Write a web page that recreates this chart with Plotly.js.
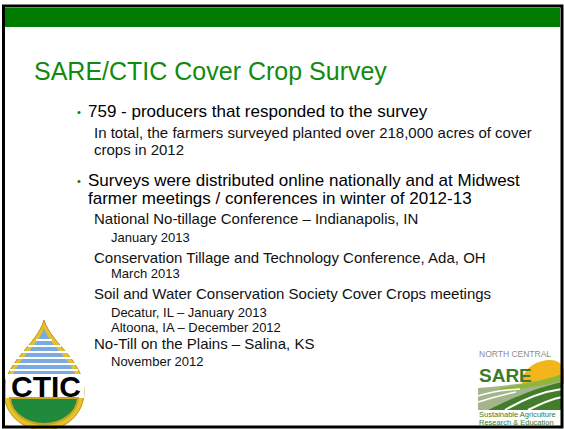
<!DOCTYPE html>
<html>
<head>
<meta charset="utf-8">
<script src="https://cdn.plot.ly/plotly-3.0.1.min.js"></script>
<style>html,body{margin:0;padding:0;background:#fff;}#chart{width:564px;height:429px;}</style>
</head>
<body>
<div id="chart"></div>
<script>
// ---- content ----
const titleText = "SARE/CTIC Cover Crop Survey";
const lineTexts = [
  "759 - producers that responded to the survey",
  "In total, the farmers surveyed planted over 218,000 acres of cover",
  "crops in 2012",
  "Surveys were distributed online nationally and at Midwest",
  "farmer meetings / conferences in winter of 2012-13",
  "National No-tillage Conference – Indianapolis, IN",
  "January 2013",
  "Conservation Tillage and Technology Conference, Ada, OH",
  "March 2013",
  "Soil and Water Conservation Society Cover Crops meetings",
  "Decatur, IL – January 2013",
  "Altoona, IA – December 2012",
  "No-Till on the Plains – Salina, KS",
  "November 2012"
];
const lineLevels = [1, 2, 2, 1, 1, 2, 3, 2, 3, 2, 3, 3, 2, 3];
const lineBullets = [true, false, false, true, false, false, false, false, false, false, false, false, false, false];
const cticLogoText = "CTIC";
const sareLogoTexts = ["NORTH CENTRAL", "SARE", "Sustainable Agriculture", "Research & Education"];

// ---- layout (positions / styles) ----
const lineBaselines = [117, 137, 154, 186, 204, 223, 242, 262, 278, 298, 317, 332, 348, 366];
const levelStyle = {
  1: {x: 87, size: 17, color: "#000000"},
  2: {x: 93, size: 15, color: "#111111"},
  3: {x: 110, size: 13, color: "#111111"}
};
const FONT = "Liberation Sans, Arial, sans-serif";
const GREEN = "#007d00";

const annotations = [];
function textAt(text, x, baseline, size, color) {
  annotations.push({
    text: text, x: x, y: baseline - size * 0.33, xref: "x", yref: "y",
    xanchor: "left", yanchor: "middle", showarrow: false,
    font: {family: FONT, size: size, color: color}, borderpad: 0
  });
}

// title
textAt(titleText, 33, 79, 25, "#118a11");

// body lines
lineTexts.forEach((t, i) => {
  const st = levelStyle[lineLevels[i]];
  textAt(t, st.x, lineBaselines[i], st.size, st.color);
  if (lineBullets[i]) {
    annotations.push({
      text: "•", x: 79, y: lineBaselines[i] - 5, xref: "x", yref: "y",
      xanchor: "center", yanchor: "middle", showarrow: false,
      font: {family: FONT, size: 11, color: GREEN}
    });
  }
});

// CTIC logo text
annotations.push({
  text: "<b>" + cticLogoText + "</b>", x: 46, y: 386, xref: "x", yref: "y",
  xanchor: "center", yanchor: "middle", showarrow: false,
  font: {family: FONT, size: 30, color: "#000000"}
});

// SARE logo texts
textAt(sareLogoTexts[0], 478, 357, 8.5, "#8c8c8c");
annotations.push({
  text: "<b>" + sareLogoTexts[1] + "</b>", x: 477, y: 375, xref: "x", yref: "y",
  xanchor: "left", yanchor: "middle", showarrow: false,
  font: {family: FONT, size: 19, color: "#3d7a2a"}
});
textAt(sareLogoTexts[2], 478, 417, 7.5, "#3d7a2a");
textAt(sareLogoTexts[3], 478, 425, 7.5, "#3d7a2a");

const shapes = [
  // green top band
  {type: "rect", x0: 5, x1: 560, y0: 8, y1: 27, fillcolor: GREEN, line: {width: 0}, layer: "below"},
  // --- CTIC logo ---
  {type: "path", path: "M 44 320 C 52 345, 84 360, 84 392 C 84 414, 66 430, 44 430 C 22 430, 4 414, 4 392 C 4 362, 37 345, 44 320 Z",
   fillcolor: "#e6c22a", line: {color: "#b8961c", width: 1}},
  {type: "path", path: "M 44 328 C 50 348, 79 362, 79 392 C 79 411, 63 425, 44 425 C 25 425, 9 411, 9 392 C 9 364, 38 348, 44 328 Z",
   fillcolor: "#7aaadf", line: {width: 0}},
  {type: "line", x0: 36, x1: 52, y0: 340, y1: 340, line: {color: "#ffffff", width: 2}},
  {type: "line", x0: 28, x1: 61, y0: 346, y1: 346, line: {color: "#ffffff", width: 2}},
  {type: "line", x0: 20, x1: 68, y0: 352, y1: 352, line: {color: "#ffffff", width: 2}},
  {type: "line", x0: 15, x1: 73, y0: 358, y1: 358, line: {color: "#ffffff", width: 2}},
  {type: "line", x0: 12, x1: 76, y0: 364, y1: 364, line: {color: "#ffffff", width: 2}},
  {type: "line", x0: 10, x1: 78, y0: 370, y1: 370, line: {color: "#ffffff", width: 2}},
  {type: "rect", x0: 6, x1: 84, y0: 374, y1: 398, fillcolor: "#ffffff", line: {width: 0}},
  {type: "path", path: "M 10 398 L 78 398 C 77 413, 62 424, 44 424 C 26 424, 11 413, 10 398 Z",
   fillcolor: "#1f8a3c", line: {color: "#c9a322", width: 2}},
  // --- SARE logo ---
  {type: "path", path: "M 522 384 C 522 366, 540 360, 550 360 C 560 360, 566 366, 566 384 Z",
   fillcolor: "#f2b51c", line: {width: 0}},
  {type: "path", path: "M 478 388 C 505 386, 535 382, 562 377 L 562 410 L 478 410 Z",
   fillcolor: "#a3b58a", line: {width: 0}},
  {type: "path", path: "M 500 388 C 525 384, 545 380, 562 374 L 562 381 C 545 385, 525 389, 500 391 Z",
   fillcolor: "#8fb63c", line: {width: 0}},
  {type: "path", path: "M 488 410 C 508 400, 535 388, 562 382 L 562 410 Z",
   fillcolor: "#437d2b", line: {width: 0}},
  {type: "path", path: "M 478 396 C 490 392, 505 390, 520 389", line: {color: "#ffffff", width: 1.5}},
  {type: "path", path: "M 478 402 C 492 398, 505 394, 516 392", line: {color: "#ffffff", width: 1.5}},
  {type: "path", path: "M 505 410 C 522 400, 540 392, 562 389", line: {color: "#ffffff", width: 2}},
  {type: "path", path: "M 528 410 C 540 404, 552 399, 562 397", line: {color: "#ffffff", width: 2}},
  // slide border
  {type: "rect", x0: 3.5, x1: 562, y0: 6, y1: 427, line: {color: "#000000", width: 3}, fillcolor: "rgba(0,0,0,0)"}
];

const layout = {
  width: 564, height: 429,
  margin: {l: 0, r: 0, t: 0, b: 0, pad: 0},
  paper_bgcolor: "#ffffff", plot_bgcolor: "#ffffff",
  xaxis: {range: [0, 564], visible: false, fixedrange: true},
  yaxis: {range: [429, 0], visible: false, fixedrange: true},
  showlegend: false,
  shapes: shapes,
  annotations: annotations
};

Plotly.newPlot("chart", [{x: [], y: [], type: "scatter", mode: "markers", hoverinfo: "skip"}], layout,
  {staticPlot: true, displayModeBar: false});
</script>
</body>
</html>
